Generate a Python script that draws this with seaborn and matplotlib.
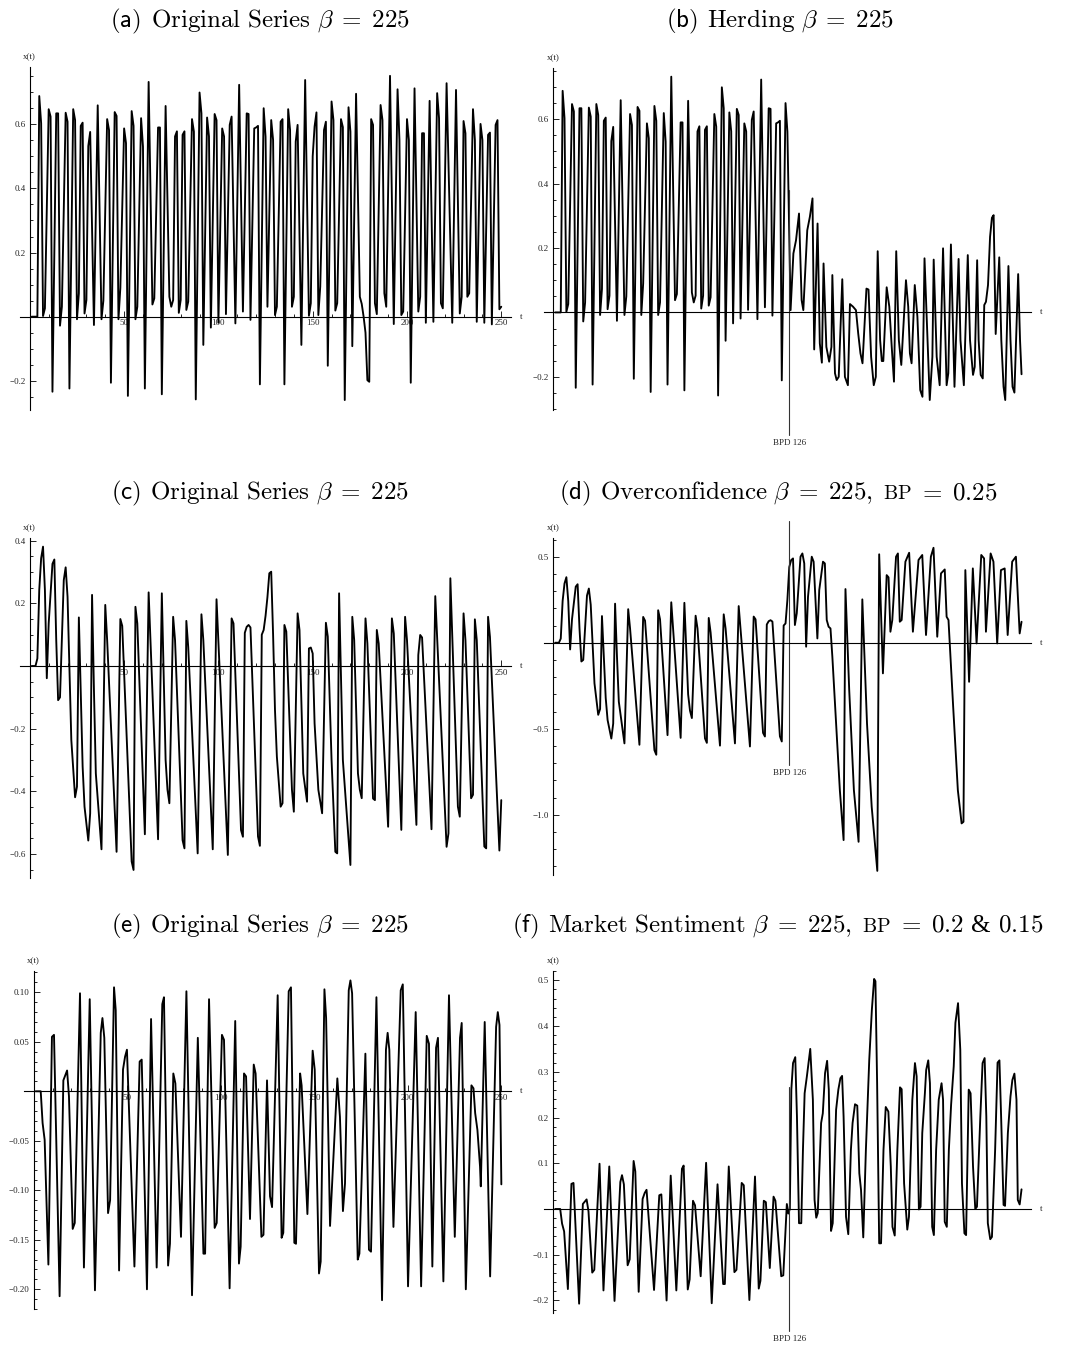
import numpy as np
import pandas as pd
import matplotlib
matplotlib.use("Agg")
import matplotlib.pyplot as plt
import matplotlib.transforms as mtrans
from matplotlib.ticker import MultipleLocator, FixedLocator, FixedFormatter
from matplotlib.offsetbox import TextArea, HPacker, AnchoredOffsetbox
import seaborn as sns

# ---------------- data (t, x(t)) ----------------
a_points = [(1,0),(4,0),(5,0.688),(6,0.603),(7,0.002),(8,0.026),(10,0.647),(11,0.624),(12,-0.234),(14,0.634),
(15,0.634),(16,-0.028),(17,0.031),(19,0.636),(20,0.608),(21,-0.224),(23,0.647),(24,0.613),(25,-0.008),(26,0.073),
(27,0.595),(28,0.605),(29,0.01),(30,0.052),(31,0.532),(32,0.576),(34,-0.026),(36,0.659),(38,-0.008),(39,0.05),
(41,0.616),(42,0.582),(43,-0.206),(45,0.638),(46,0.626),(47,-0.008),(48,0.09),(50,0.587),(51,0.541),(52,-0.247),
(54,0.641),(55,0.595),(56,-0.008),(57,0.031),(59,0.619),(60,0.53),(61,-0.224),(63,0.732),(65,0.038),(66,0.057),
(68,0.59),(69,0.59),(70,-0.242),(72,0.657),(74,0.062),(75,0.031),(76,0.052),(77,0.562),(78,0.578),(79,0.012),
(80,0.052),(81,0.567),(82,0.578),(83,0.021),(84,0.047),(86,0.616),(87,0.577),(88,-0.258),(90,0.699),(91,0.634),
(92,-0.088),(94,0.621),(95,0.562),(96,-0.034),(98,0.632),(99,0.613),(100,-0.019),(102,0.587),(103,0.562),(104,0.008),
(106,0.598),(107,0.624),(109,-0.021),(111,0.723),(113,0.016),(115,0.634),(116,0.632),(117,-0.01),(119,0.587),(120,0.59),
(121,0.595),(122,-0.211),(124,0.65),(125,0.561),(126,0.031),(128,0.613),(129,0.551),(130,0.005),(131,0.031),(133,0.608),
(134,0.616),(135,-0.211),(137,0.647),(138,0.582),(139,0.031),(140,0.062),(141,0.546),(142,0.598),(144,-0.088),(146,0.738),
(148,0.003),(149,0.042),(150,0.5),(151,0.593),(152,0.637),(153,0.005),(154,0.094),(156,0.582),(157,0.608),(158,-0.153),
(160,0.671),(161,0.613),(162,0.019),(163,0.042),(165,0.616),(166,0.591),(167,-0.26),(169,0.653),(170,0.577),(171,-0.092),
(173,0.695),(175,0.062),(176,0.04),(177,0.0),(178,-0.05),(179,-0.198),(180,-0.203),(181,0.616),(182,0.598),(183,0.042),
(184,0.008),(186,0.66),(187,0.613),(188,0.073),(189,0.031),(191,0.751),(193,-0.023),(195,0.709),(196,0.551),(197,0.005),
(198,0.016),(200,0.616),(201,0.551),(202,-0.206),(204,0.712),(206,0.016),(207,0.062),(208,0.572),(209,0.572),(210,-0.019),
(212,0.673),(214,-0.016),(216,0.697),(217,0.619),(218,0.042),(219,0.026),(221,0.728),(224,-0.019),(226,0.707),(228,0.01),
(229,0.062),(230,0.61),(231,0.572),(232,0.062),(233,0.073),(235,0.647),(236,0.551),(237,-0.016),(239,0.601),(240,0.551),
(241,-0.019),(243,0.567),(244,0.574),(245,-0.024),(247,0.598),(248,0.613),(249,0.023),(250,0.031)]

b_tail = [(126.7,0.007),(128.2,0.183),(129.6,0.224),(131.2,0.307),(132.6,0.038),(133.5,0.007),(135.6,0.255),(137.0,0.297),
(138.4,0.354),(139.3,-0.115),(141.1,0.276),(142.3,-0.096),(143.4,-0.156),(144.3,0.152),(145.8,-0.107),(147.3,-0.153),
(148.5,-0.107),(149.0,0.116),(150.4,-0.189),(151.3,-0.21),(152.4,-0.2),(154.3,0.103),(155.7,-0.2),(157.3,-0.226),
(158.4,0.026),(160.0,0.018),(161.6,0.007),(162.8,-0.065),(164.0,-0.127),(165.1,-0.158),(167.2,0.074),(168.3,0.071),
(169.7,-0.138),(171.1,-0.226),(172.2,-0.2),(173.2,0.19),(174.5,-0.086),(175.4,-0.151),(176.2,-0.151),(178.0,0.078),
(179.4,0.018),(180.7,-0.107),(181.9,-0.215),(183.1,0.19),(184.5,-0.086),(185.8,-0.163),(188.3,0.1),(189.5,0.018),
(190.4,-0.127),(191.3,-0.158),(193.0,0.085),(194.4,-0.013),(195.9,-0.241),(197.1,-0.262),(198.2,0.168),(201.0,-0.272),
(202.4,-0.138),(203.1,0.164),(204.7,-0.138),(206.3,-0.226),(208.1,0.199),(210.0,-0.226),(210.9,-0.189),(212.3,0.211),
(214.2,-0.231),(216.4,0.166),(217.4,-0.086),(219.2,-0.226),(221.3,0.178),(222.5,-0.086),(224.1,-0.194),(225.0,-0.169),
(226.3,0.162),(227.1,-0.086),(228.2,-0.194),(229.3,-0.205),(230.1,0.023),(231.0,0.033),(232.1,0.085),(233.2,0.235),
(234.2,0.294),(235.1,0.302),(236.2,-0.067),(238.1,0.171),(239.2,-0.086),(240.4,-0.231),(241.3,-0.272),(243.0,0.144),
(244.1,-0.086),(245.2,-0.231),(246.2,-0.249),(248.2,0.119),(249.2,-0.086),(250.0,-0.192)]

c_points = [(1,0),(3,0),(4,0.024),(5,0.243),(6,0.344),(7,0.381),(8,0.242),(9,-0.039),(10,0.136),(12,0.326),(13,0.34),
(14,0.083),(15,-0.109),(16,-0.1),(18,0.274),(19,0.315),(20,0.221),(21,-0.013),(22,-0.236),(24,-0.419),(25,-0.385),
(26,0.155),(27,-0.077),(28,-0.321),(29,-0.449),(31,-0.557),(32,-0.47),(33,0.227),(34,-0.077),(35,-0.343),(38,-0.585),
(40,0.195),(41,0.083),(46,-0.593),(48,0.15),(49,0.128),(54,-0.624),(55,-0.651),(56,0.189),(57,0.136),(61,-0.537),
(63,0.235),(68,-0.553),(70,0.232),(72,-0.3),(73,-0.395),(74,-0.438),(76,0.157),(77,0.083),(81,-0.556),(82,-0.582),
(83,0.144),(84,0.06),(89,-0.598),(91,0.165),(92,0.083),(97,-0.585),(99,0.213),(105,-0.603),(107,0.152),(108,0.136),
(112,-0.524),(113,-0.545),(114,0.106),(115,0.125),(116,0.131),(117,0.123),(121,-0.544),(122,-0.574),(123,0.1),
(124,0.115),(125,0.16),(126,0.22),(127,0.296),(128,0.301),(129,0.1),(130,-0.14),(131,-0.289),(133,-0.449),(134,-0.438),
(135,0.131),(136,0.11),(139,-0.395),(140,-0.465),(142,0.168),(143,0.115),(145,-0.343),(147,-0.433),(148,0.056),
(149,0.059),(150,0.04),(151,-0.183),(153,-0.395),(155,-0.47),(157,0.138),(158,0.094),(160,-0.3),(162,-0.593),
(163,-0.598),(164,0.232),(166,-0.3),(170,-0.635),(171,0.157),(172,0.083),(174,-0.343),(175,-0.395),(176,-0.422),
(178,0.152),(179,0.072),(182,-0.423),(183,-0.428),(184,0.115),(185,0.072),(190,-0.513),(192,0.152),(193,0.104),
(197,-0.523),(199,0.157),(200,0.083),(205,-0.507),(206,0.035),(207,0.099),(208,0.091),(213,-0.521),(215,0.223),
(221,-0.577),(222,-0.534),(223,0.28),(227,-0.449),(228,-0.481),(230,0.168),(231,0.083),(234,-0.422),(235,-0.411),
(236,0.149),(237,0.083),(241,-0.576),(242,-0.582),(243,0.157),(244,0.093),(249,-0.589),(250,-0.428)]

d_tail = [(124,0.112),(125,0.25),(126,0.44),(127,0.48),(128,0.49),(129,0.103),(130,0.171),(132,0.5),(133,0.519),
(134,0.461),(135,-0.023),(136,0.267),(138,0.5),(139,0.471),(141,0.025),(142,0.306),(144,0.471),(145,0.461),(146,0.132),
(147,0.093),(148,0.083),(149,-0.081),(151,-0.469),(153,-0.857),(155,-1.147),(156,0.312),(158,-0.275),(160.5,-0.857),
(163,-1.157),(165,0.252),(167.5,-0.469),(170,-0.953),(173,-1.326),(174,0.514),(176,-0.178),(178,0.393),(179,0.38),
(180,0.064),(181,0.132),(183,0.5),(184,0.519),(185,0.122),(186,0.132),(188,0.471),(190,0.523),(192,0.064),(195,0.481),
(197,0.51),(199,0.045),(201.6,0.5),(203,0.552),(205,0.035),(207,0.403),(209,0.426),(210,0.151),(211,0.132),
(213.5,-0.372),(216,-0.857),(218,-1.05),(219,-1.041),(220,0.422),(222,-0.227),(224,0.432),(226,-0.004),(228.5,0.51),
(230,0.49),(231,0.064),(233.5,0.519),(235,0.471),(237,-0.004),(239,0.422),(241,0.432),(242.6,0.045),(245,0.471),
(247,0.5),(249,0.054),(250,0.122)]

e_points = [(1,0),(3.7,0),(4.7,-0.032),(5.8,-0.049),(7.8,-0.175),(9.7,0.055),(10.8,0.057),(13.8,-0.207),(15.8,0.011),
(17.8,0.021),(18.8,-0.005),(20.8,-0.139),(21.9,-0.133),(24.7,0.099),(26.8,-0.178),(29.9,0.093),(32.7,-0.201),(35.8,0.059),
(36.7,0.074),(37.7,0.054),(39.7,-0.123),(40.8,-0.11),(42.9,0.105),(43.8,0.082),(45.6,-0.181),(47.7,0.022),(48.8,0.035),
(49.8,0.042),(53.8,-0.177),(56.6,0.03),(57.7,0.032),(60.5,-0.2),(62.7,0.073),(65.7,-0.178),(68.7,0.088),(69.6,0.095),
(71.8,-0.176),(72.8,-0.154),(74.6,0.018),(75.7,0.008),(78.7,-0.147),(81.6,0.101),(84.6,-0.206),(87.7,0.054),(90.7,-0.164),
(91.6,-0.164),(93.7,0.093),(96.7,-0.138),(97.8,-0.133),(100.6,0.057),(101.7,0.052),(104.7,-0.199),(107.7,0.071),
(109.7,-0.174),(110.6,-0.157),(112.4,0.018),(113.5,0.015),(115.6,-0.129),(117.6,0.027),(118.6,0.018),(121.7,-0.147),
(122.8,-0.145),(124.7,0.011),(126.3,-0.106),(127.4,-0.117),(130.4,0.097),(132.5,-0.148),(133.4,-0.143),(136.3,0.101),
(137.5,0.105),(139.3,-0.153),(140.2,-0.154),(142.4,0.018),(143.2,0.006),(146.3,-0.124),(149.1,0.041),(150.2,0.022),
(152.5,-0.184),(153.4,-0.172),(155.4,0.103),(156.3,0.074),(158.4,-0.136),(162.3,0.013),(163.7,-0.026),(165.3,-0.121),
(166.4,-0.093),(168.4,0.102),(169.3,0.112),(170.2,0.099),(173.2,-0.17),(174.1,-0.164),(177.3,0.038),(179.2,-0.16),
(180.3,-0.162),(183.2,0.095),(186.2,-0.211),(188.3,0.042),(189.2,0.059),(190.1,0.042),(192.3,-0.137),(196.2,0.102),
(197.3,0.108),(200.1,-0.197),(204.2,0.08),(207.1,-0.197),(210.1,0.056),(211.3,0.048),(213.1,-0.177),(215.1,0.044),
(216.1,0.054),(219.0,-0.192),(222.0,0.097),(225.1,-0.147),(227.9,0.054),(228.8,0.069),(231.0,-0.2),(234.0,0.006),
(235.1,0.003),(236.0,-0.022),(237.2,-0.039),(238.6,-0.076),(239.0,-0.096),(241.1,0.07),(244.0,-0.187),(247.2,0.065),
(248.1,0.08),(249.0,0.067),(250.0,-0.094)]

f_tail = [(125.5,-0.01),(126.3,0.0),(127.1,0.261),(128.0,0.319),(129.2,0.332),(130.1,0.202),(131.2,-0.031),(132.4,-0.031),
(133.3,0.129),(134.2,0.253),(135.4,0.29),(137.2,0.35),(138.6,0.239),(139.5,0.02),(140.4,-0.019),(141.2,-0.009),
(143.0,0.188),(143.9,0.209),(145.1,0.297),(146.2,0.324),(147.1,0.261),(148.3,-0.048),(149.2,-0.031),(151.0,0.217),
(152.2,0.261),(153.3,0.286),(154.2,0.291),(155.0,0.202),(156.3,-0.017),(157.5,-0.055),(158.9,0.129),(159.8,0.188),
(161.1,0.229),(162.3,0.226),(163.4,0.078),(164.3,0.042),(165.5,-0.062),(166.9,0.129),(168.7,0.326),(170.1,0.436),
(171.3,0.503),(172.0,0.498),(172.9,0.275),(174.0,-0.075),(175.0,-0.075),(176.3,0.129),(177.5,0.223),(178.9,0.213),
(180.2,0.093),(181.1,-0.039),(182.3,-0.058),(183.7,0.129),(185.1,0.266),(186.0,0.262),(187.3,0.056),(189.0,-0.045),
(189.9,-0.017),(191.7,0.239),(193.1,0.319),(194.0,0.29),(195.2,-0.001),(196.1,0.005),(197.0,0.166),(198.4,0.253),
(199.1,0.304),(200.2,0.325),(201.1,0.275),(202.3,-0.039),(203.2,-0.057),(204.4,0.129),(205.8,0.239),(207.3,0.275),
(208.1,0.239),(209.0,-0.028),(210.1,-0.039),(211.2,0.129),(212.4,0.228),(213.8,0.312),(214.7,0.407),(216.1,0.45),
(217.3,0.348),(218.2,0.056),(219.5,-0.053),(220.4,-0.057),(221.8,0.261),(222.8,0.253),(224.1,0.093),(225.3,0.0),
(226.2,0.005),(228.0,0.202),(229.2,0.319),(230.3,0.33),(231.2,0.202),(232.0,-0.031),(233.3,-0.066),(234.2,-0.061),
(235.9,0.129),(237.2,0.32),(238.2,0.325),(239.1,0.202),(240.4,0.009),(241.2,0.007),(242.7,0.166),(244.1,0.246),
(245.1,0.282),(246.2,0.296),(247.3,0.239),(248.0,0.02),(249.0,0.01),(250.0,0.043)]

breakpoint_t = 126
x_ticks = [50, 100, 150, 200, 250]
a_yticks = [-0.2, 0.2, 0.4, 0.6]
b_yticks = [-0.2, 0.2, 0.4, 0.6]
c_yticks = [-0.6, -0.4, -0.2, 0.2, 0.4]
d_yticks = [-1.0, -0.5, 0.5]
e_yticks = [-0.20, -0.15, -0.10, -0.05, 0.05, 0.10]
f_yticks = [-0.2, -0.1, 0.1, 0.2, 0.3, 0.4, 0.5]

b_points = [p for p in a_points if p[0] <= 125] + b_tail
d_points = [p for p in c_points if p[0] <= 123] + d_tail
f_points = [p for p in e_points if p[0] <= 124.7] + f_tail

# ---------------- style ----------------
sns.set_theme(style="white")
plt.rcParams["font.family"] = ["Liberation Serif", "DejaVu Serif"]
plt.rcParams["mathtext.fontset"] = "cm"
plt.rcParams["axes.unicode_minus"] = True

W, H = 1065, 1346
fig = plt.figure(figsize=(W / 100, H / 100), dpi=100)
fig.patch.set_facecolor("white")

panels = [
    dict(pts=a_points, box=(20.4, 510.7, 66.7, 410.0), ylim=(-0.291, 0.7795), yt=a_yticks, minor=0.05, fmt="{:.1f}", xt=True, bpd=None),
    dict(pts=b_points, box=(543.9, 1030.9, 68.3, 410.0), ylim=(-0.303, 0.758), yt=b_yticks, minor=0.05, fmt="{:.1f}", xt=False, bpd=0.38),
    dict(pts=c_points, box=(20.4, 510.7, 538.3, 877.5), ylim=(-0.675, 0.4076), yt=c_yticks, minor=0.05, fmt="{:.1f}", xt=True, bpd=None),
    dict(pts=d_points, box=(543.9, 1030.9, 538.3, 875.0), ylim=(-1.35, 0.607), yt=d_yticks, minor=0.1, fmt="{:.1f}", xt=False, bpd=0.71),
    dict(pts=e_points, box=(24.45, 510.7, 970.7, 1309.3), ylim=(-0.2202, 0.1218), yt=e_yticks, minor=0.01, fmt="{:.2f}", xt=True, bpd=None),
    dict(pts=f_points, box=(543.9, 1030.9, 970.7, 1313.3), ylim=(-0.228, 0.521), yt=f_yticks, minor=0.02, fmt="{:.1f}", xt=False, bpd=0.267),
]

small = 6.5
for p in panels:
    l, r, t, b = p["box"]
    ax = fig.add_axes([l / W, 1 - b / H, (r - l) / W, (b - t) / H])
    ax.set_facecolor("none")
    df = pd.DataFrame(p["pts"], columns=["t", "x"])
    sns.lineplot(data=df, x="t", y="x", ax=ax, color="black", linewidth=1.35,
                 estimator=None, sort=False)
    ax.set_xlim(-5, 255)
    ax.set_ylim(*p["ylim"])
    ax.set_xlabel("")
    ax.set_ylabel("")
    for s in ["top", "right"]:
        ax.spines[s].set_visible(False)
    for s in ["left", "bottom"]:
        ax.spines[s].set_position(("data", 0))
        ax.spines[s].set_color("black")
        ax.spines[s].set_linewidth(0.8)
    ax.yaxis.set_major_locator(FixedLocator(p["yt"]))
    ax.yaxis.set_major_formatter(FixedFormatter([p["fmt"].format(v).replace("-", "\u2212") for v in p["yt"]]))
    ax.yaxis.set_minor_locator(MultipleLocator(p["minor"]))
    ax.tick_params(axis="y", which="both", left=True, direction="in", color="black",
                   labelsize=small, pad=3, width=0.6)
    ax.tick_params(axis="y", which="major", length=4)
    ax.tick_params(axis="y", which="minor", length=2)
    if p["xt"]:
        ax.xaxis.set_major_locator(FixedLocator(x_ticks))
        ax.xaxis.set_major_formatter(FixedFormatter([str(v) for v in x_ticks]))
        ax.xaxis.set_minor_locator(MultipleLocator(10))
        ax.tick_params(axis="x", which="both", bottom=True, direction="in", color="black",
                       labelsize=small, pad=2, width=0.6)
        ax.tick_params(axis="x", which="major", length=4)
        ax.tick_params(axis="x", which="minor", length=2)
    else:
        ax.tick_params(axis="x", which="both", bottom=False, labelbottom=False)
    tr_y = mtrans.blended_transform_factory(ax.transData, ax.transAxes)
    ax.annotate("x(t)", xy=(0, 1), xycoords=tr_y, xytext=(0, 6), textcoords="offset pixels",
                ha="center", va="bottom", fontsize=small, annotation_clip=False)
    tr_x = mtrans.blended_transform_factory(ax.transAxes, ax.transData)
    ax.annotate("t", xy=(1, 0), xycoords=tr_x, xytext=(10, 0), textcoords="offset pixels",
                ha="center", va="center", fontsize=small, annotation_clip=False)
    if p["bpd"] is not None:
        h = p["bpd"]
        ax.plot([breakpoint_t, breakpoint_t], [-h, h], color="#333333", linewidth=0.8, clip_on=False)
        ax.annotate(f"BPD {breakpoint_t}", xy=(breakpoint_t, -h), xycoords="data",
                    xytext=(0, -4), textcoords="offset pixels", ha="center", va="top",
                    fontsize=small, annotation_clip=False)

# ---------------- titles ----------------
tsize = 18
def title(parts, cx, cy):
    kids = []
    for part in parts:
        if isinstance(part, list):
            sub = [TextArea(txt, textprops=dict(fontsize=tsize * sc, color="black")) for txt, sc in part]
            kids.append(HPacker(children=sub, align="baseline", pad=0, sep=0))
        else:
            txt, sc = part
            kids.append(TextArea(txt, textprops=dict(fontsize=tsize * sc, color="black")))
    pack = HPacker(children=kids, align="baseline", pad=0, sep=7)
    box = AnchoredOffsetbox(loc="center", child=pack, pad=0, borderpad=0, frameon=False,
                            bbox_to_anchor=(cx / W, 1 - cy / H), bbox_transform=fig.transFigure)
    fig.add_artist(box)

EQ = r"\;=\;"
title([(r"$\mathsf{(a)}$", 1), (r"$\mathrm{Original\ Series}\ \beta" + EQ + "225$", 1)], 260, 21)
title([(r"$\mathsf{(b)}$", 1), (r"$\mathrm{Herding}\ \beta" + EQ + "225$", 1)], 780, 21)
title([(r"$\mathsf{(c)}$", 1), (r"$\mathrm{Original\ Series}\ \beta" + EQ + "225$", 1)], 260, 493)
title([(r"$\mathsf{(d)}$", 1), (r"$\mathrm{Overconfidence}\ \beta" + EQ + "225,$", 1),
       [(r"$\mathrm{BP}$", 0.8), (r"$\;=\;0.25$", 1)]], 778, 493)
title([(r"$\mathsf{(e)}$", 1), (r"$\mathrm{Original\ Series}\ \beta" + EQ + "225$", 1)], 260, 926)
title([(r"$\mathsf{(f)}$", 1), (r"$\mathrm{Market\ Sentiment}\ \beta" + EQ + "225,$", 1),
       [(r"$\mathrm{BP}$", 0.8), (r"$\;=\;0.2\ $&", 1), (r"$\ 0.15$", 1)]], 778, 926)

fig.savefig("out.png", dpi=100, facecolor="white")
